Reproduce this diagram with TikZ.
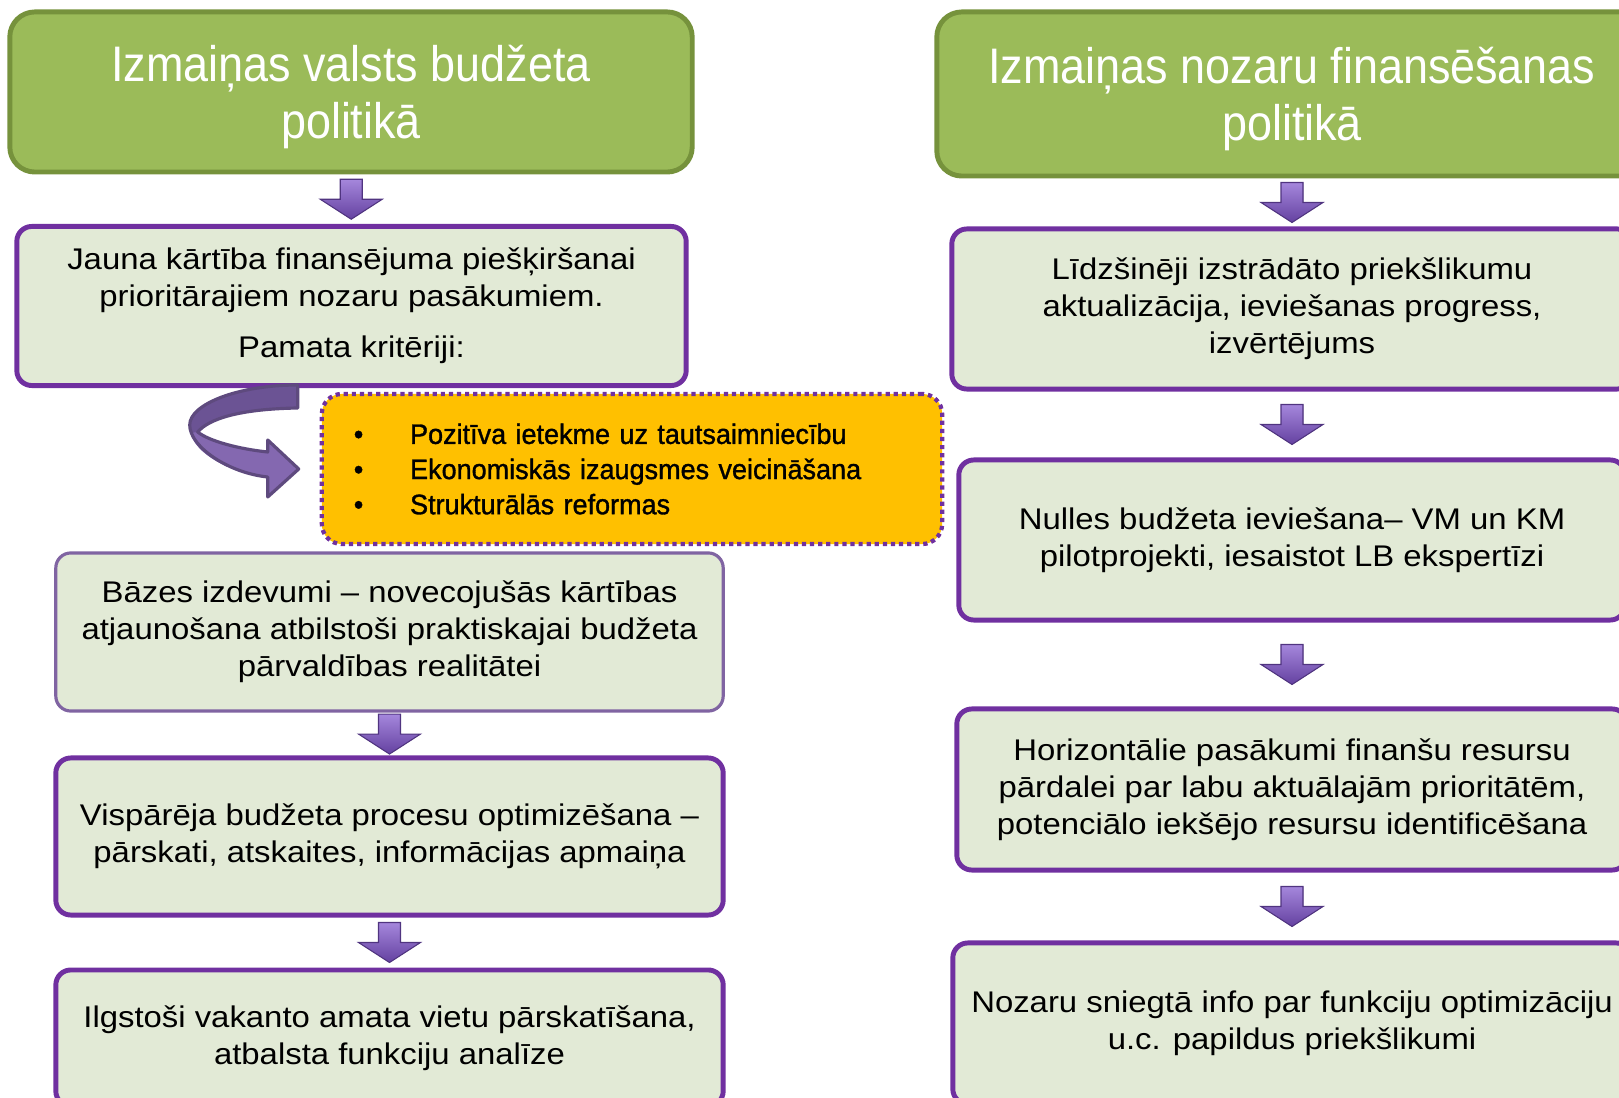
\documentclass[tikz,border=0pt]{standalone}
\usepackage{fontspec}
\setmainfont[FakeStretch=1.1]{Liberation Sans}
\newfontfamily\titlefont[FakeStretch=0.9]{Liberation Sans}
\newfontfamily\critfont[FakeStretch=0.96,FakeBold=1.2]{Liberation Sans}
\usepackage{xcolor}
\usepackage{tikz}
\usetikzlibrary{calc,positioning}

\definecolor{titlegreen}{RGB}{155,187,89}
\definecolor{titleedge}{RGB}{118,146,60}
\definecolor{boxfill}{RGB}{226,234,214}
\definecolor{boxedge}{RGB}{112,48,160}
\definecolor{boxedgelight}{RGB}{128,100,162}
\definecolor{critfill}{RGB}{255,192,0}
\definecolor{arrtop}{RGB}{165,135,220}
\definecolor{arrbot}{RGB}{100,65,160}
\definecolor{ribbonedge}{RGB}{94,74,126}
\definecolor{ribbondark}{RGB}{107,83,148}
\definecolor{ribbonlight}{RGB}{132,104,176}

\begin{document}
\begin{tikzpicture}[x=0.01cm,y=-0.01cm,
  titlebox/.style={draw=titleedge, fill=titlegreen, line width=1.4pt,
    rounded corners=0.25cm, text=white, align=center, inner sep=0pt,
    text depth=-1.6pt, font=\titlefont\fontsize{14.2}{16.2}\selectfont},
  stepbox/.style={draw=boxedge, fill=boxfill, line width=1.4pt,
    rounded corners=0.15cm, align=center, inner sep=0pt,
    font=\fontsize{8.5}{10.5}\selectfont},
  critbox/.style={draw=boxedge, fill=critfill, line width=1.2pt,
    dash pattern=on 1.2pt off 1.1pt, rounded corners=0.2cm, align=left,
    text width=5.56cm, inner xsep=0.32cm, inner ysep=0pt,
    font=\critfont\fontsize{8}{10}\selectfont},
  darr/.pic={
    \fill[top color=arrtop, bottom color=arrbot]
      (-11,-20) -- (11,-20) -- (11,0) -- (31,0) -- (0,20) -- (-31,0) -- (-11,0) -- cycle;
    \draw[arrbot!80!black, line width=0.3pt]
      (-11,-20) -- (11,-20) -- (11,0) -- (31,0) -- (0,20) -- (-31,0) -- (-11,0) -- cycle;
  }]
  \useasboundingbox (0,0) rectangle (1619,1098);
  \clip (0,0) rectangle (1619,1098);

  % Kreisa kolonna
  \node[titlebox, minimum width=6.82cm, minimum height=1.6cm] (budzets) at (351,92)
    {Izmaiņas valsts budžeta\\politikā};
  \node[stepbox, minimum width=6.69cm, minimum height=1.59cm] (kartiba) at (351.5,306)
    {Jauna kārtība finansējuma piešķiršanai\\prioritārajiem nozaru pasākumiem.\\[4pt]Pamata kritēriji:};
  \node[critbox, minimum height=1.5cm] (kriteriji) at (632,469)
    {\makebox[16pt][l]{•}Pozitīva ietekme uz tautsaimniecību\\
     \makebox[16pt][l]{•}Ekonomiskās izaugsmes veicināšana\\
     \makebox[16pt][l]{•}Strukturālās reformas};
  \node[stepbox, draw=boxedgelight, line width=0.9pt, minimum width=6.67cm, minimum height=1.58cm] (bazes) at (389.5,632)
    {Bāzes izdevumi -- novecojušās kārtības\\atjaunošana atbilstoši praktiskajai budžeta\\pārvaldības realitātei};
  \node[stepbox, minimum width=6.67cm, minimum height=1.57cm] (process) at (389.5,836.5)
    {Vispārēja budžeta procesu optimizēšana --\\pārskati, atskaites, informācijas apmaiņa};
  \node[stepbox, minimum width=6.67cm, minimum height=1.36cm] (vakances) at (389.5,1038)
    {Ilgstoši vakanto amata vietu pārskatīšana,\\atbalsta funkciju analīze};

  % Laba kolonna
  \node[titlebox, minimum width=7.1cm, minimum height=1.64cm] (nozares) at (1292,94)
    {Izmaiņas nozaru finansēšanas\\politikā};
  \node[stepbox, minimum width=6.8cm, minimum height=1.6cm] (lidzsineji) at (1292,309)
    {Līdzšinēji izstrādāto priekšlikumu\\aktualizācija, ieviešanas progress,\\izvērtējums};
  \node[stepbox, minimum width=6.66cm, minimum height=1.6cm] (nulles) at (1292,540)
    {Nulles budžeta ieviešana-- VM un KM\\pilotprojekti, iesaistot LB ekspertīzi};
  \node[stepbox, minimum width=6.7cm, minimum height=1.61cm] (horizontalie) at (1292,789.5)
    {Horizontālie pasākumi finanšu resursu\\pārdalei par labu aktuālajām prioritātēm,\\potenciālo iekšējo resursu identificēšana};
  \node[stepbox, minimum width=6.78cm, minimum height=1.61cm] (info) at (1292,1023.5)
    {Nozaru sniegtā info par funkciju optimizāciju\\u.c. papildus priekšlikumi};

  % Bultas starp blokiem
  \pic at ($(budzets.south)!0.5!(kartiba.north)$) {darr};
  \pic at ($(bazes.south)!0.5!(process.north)$) {darr};
  \pic at ($(process.south)!0.5!(vakances.north)$) {darr};
  \pic at ($(nozares.south)!0.5!(lidzsineji.north)$) {darr};
  \pic at ($(lidzsineji.south)!0.5!(nulles.north)$) {darr};
  \pic at ($(nulles.south)!0.5!(horizontalie.north)$) {darr};
  \pic at ($(horizontalie.south)!0.5!(info.north)$) {darr};

  % Izliekta bulta uz kritērijiem
  \begin{scope}[shift={($(kriteriji.west)+(-21,0)$)}]
    \fill[ribbondark]
      (-1,-84) .. controls (-60,-84) and (-109,-65) .. (-109,-44)
      .. controls (-109,-22) and (-70,4) .. (-31,8)
      -- (-31,28) -- (0,0) -- (-31,-29) -- (-31,-17)
      .. controls (-60,-20) and (-90,-28) .. (-101,-37)
      .. controls (-90,-50) and (-60,-60) .. (-1,-61) -- cycle;
    \fill[ribbonlight]
      (-108,-36) .. controls (-104,-16) and (-70,4) .. (-31,8)
      -- (-31,28) -- (0,0) -- (-31,-29) -- (-31,-17)
      .. controls (-60,-20) and (-90,-28) .. (-101,-37) -- cycle;
    \draw[ribbonedge, line width=0.9pt, line join=round]
      (-1,-84) .. controls (-60,-84) and (-109,-65) .. (-109,-44)
      .. controls (-109,-22) and (-70,4) .. (-31,8)
      -- (-31,28) -- (0,0) -- (-31,-29) -- (-31,-17)
      .. controls (-60,-20) and (-90,-28) .. (-101,-37)
      .. controls (-90,-50) and (-60,-60) .. (-1,-61) -- cycle;
  \end{scope}
\end{tikzpicture}
\end{document}
